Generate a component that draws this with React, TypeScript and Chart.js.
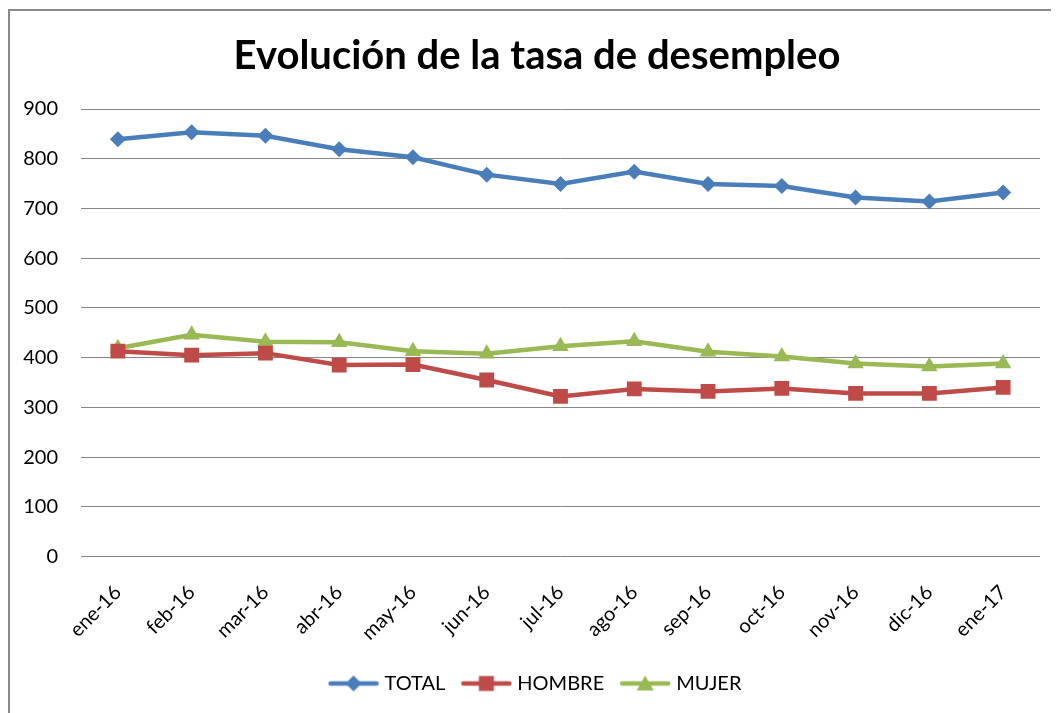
import React, { useEffect, useRef } from 'react';
import { Chart, registerables } from 'chart.js';

Chart.register(...registerables);

const categories = ['ene-16', 'feb-16', 'mar-16', 'abr-16', 'may-16', 'jun-16', 'jul-16', 'ago-16', 'sep-16', 'oct-16', 'nov-16', 'dic-16', 'ene-17'];
const totalValues = [839, 853, 846, 819, 803, 768, 749, 774, 749, 745, 722, 714, 732];
const hombreValues = [413, 405, 409, 385, 386, 355, 322, 337, 332, 338, 328, 328, 340];
const mujerValues = [419, 446, 432, 431, 413, 408, 423, 433, 412, 402, 388, 382, 388];
const seriesNames = ['TOTAL', 'HOMBRE', 'MUJER'];
const seriesColors = ['#4A7EBB', '#BE4B48', '#98B954'];
const yMin = 0;
const yMax = 900;
const yStep = 100;

const FONT = 'Lato, "Open Sans", sans-serif';

function makeLegendImage(color: string, shape: string): HTMLCanvasElement {
  const c = document.createElement('canvas');
  c.width = 52;
  c.height = 20;
  const ctx = c.getContext('2d')!;
  ctx.strokeStyle = color;
  ctx.fillStyle = color;
  ctx.lineWidth = 4.5;
  ctx.lineCap = 'round';
  ctx.beginPath();
  ctx.moveTo(3, 10);
  ctx.lineTo(49, 10);
  ctx.stroke();
  const cx = 26, cy = 10;
  ctx.beginPath();
  if (shape === 'diamond') {
    ctx.moveTo(cx, cy - 8);
    ctx.lineTo(cx + 8, cy);
    ctx.lineTo(cx, cy + 8);
    ctx.lineTo(cx - 8, cy);
  } else if (shape === 'square') {
    ctx.rect(cx - 7.5, cy - 7.5, 15, 15);
  } else {
    ctx.moveTo(cx, cy - 8);
    ctx.lineTo(cx + 8.5, cy + 7);
    ctx.lineTo(cx - 8.5, cy + 7);
  }
  ctx.closePath();
  ctx.fill();
  return c;
}

const shiftBlocks = {
  id: 'shiftBlocks',
  afterLayout(chart: any) {
    if (chart.titleBlock) chart.titleBlock.left += 24;
    if (chart.legend) chart.legend.left += 24;
  },
};

export default function App() {
  const canvasRef = useRef<HTMLCanvasElement | null>(null);

  useEffect(() => {
    document.body.style.overflow = 'hidden';
    const canvas = canvasRef.current;
    if (!canvas) return;
    const legendImgs = [
      makeLegendImage(seriesColors[0], 'diamond'),
      makeLegendImage(seriesColors[1], 'square'),
      makeLegendImage(seriesColors[2], 'triangle'),
    ];
    const chart = new Chart(canvas, {
      type: 'line',
      data: {
        labels: categories,
        datasets: [
          {
            label: seriesNames[0],
            data: totalValues,
            borderColor: seriesColors[0],
            backgroundColor: seriesColors[0],
            borderWidth: 4.5,
            pointStyle: 'rectRot',
            pointRadius: 8,
            pointBorderWidth: 0,
            tension: 0,
          },
          {
            label: seriesNames[1],
            data: hombreValues,
            borderColor: seriesColors[1],
            backgroundColor: seriesColors[1],
            borderWidth: 4.5,
            pointStyle: 'rect',
            pointRadius: 10.5,
            pointBorderWidth: 0,
            tension: 0,
          },
          {
            label: seriesNames[2],
            data: mujerValues,
            borderColor: seriesColors[2],
            backgroundColor: seriesColors[2],
            borderWidth: 4.5,
            pointStyle: 'triangle',
            pointRadius: 9.5,
            pointBorderWidth: 0,
            tension: 0,
          },
        ],
      },
      options: {
        animation: false,
        responsive: false,
        maintainAspectRatio: false,
        layout: { padding: { left: 0, right: 50, top: 0, bottom: 10.5 } },
        plugins: {
          title: {
            display: true,
            text: 'Evolución de la tasa de desempleo',
            color: '#000',
            font: { family: FONT, size: 40, weight: 'bold' },
            padding: { top: 21, bottom: 29 },
          },
          legend: {
            position: 'bottom',
            labels: {
              usePointStyle: true,
              pointStyleWidth: 42,
              color: '#000',
              font: { family: FONT, size: 20 },
              padding: 20,
              generateLabels: (ch: any) => {
                const items = (Chart.defaults.plugins.legend.labels as any).generateLabels(ch);
                return items.map((it: any, i: number) => ({ ...it, pointStyle: legendImgs[i] }));
              },
            },
          },
          tooltip: { enabled: false },
        },
        scales: {
          x: {
            offset: true,
            grid: { display: false },
            border: { display: false },
            ticks: {
              color: '#000',
              font: { family: FONT, size: 20 },
              minRotation: 45,
              maxRotation: 45,
              padding: 16,
            },
            afterFit: (scale: any) => {
              scale.height = 97;
            },
          },
          y: {
            min: yMin,
            max: yMax,
            grid: { color: '#868686', lineWidth: 1, drawTicks: false },
            border: { display: false },
            ticks: {
              stepSize: yStep,
              color: '#000',
              font: { family: FONT, size: 20 },
              padding: 23,
            },
            afterFit: (scale: any) => {
              scale.width = 71;
            },
          },
        },
      },
      plugins: [shiftBlocks],
    });
    return () => chart.destroy();
  }, []);

  return (
    <div
      style={{
        width: 1100,
        height: 760,
        marginTop: 1,
        border: '2px solid #8a8a8a',
        boxSizing: 'border-box',
        background: '#fff',
      }}
    >
      <canvas ref={canvasRef} width={1080} height={703} style={{ display: 'block' }} />
    </div>
  );
}
